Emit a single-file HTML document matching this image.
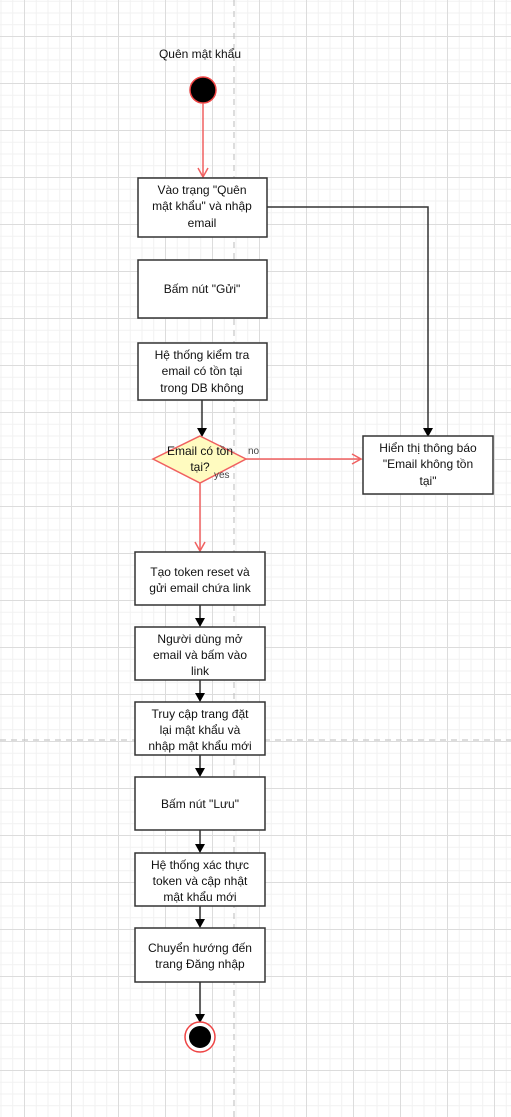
<!DOCTYPE html>
<html><head><meta charset="utf-8"><style>
html,body{margin:0;padding:0;}
body{width:511px;height:1117px;overflow:hidden;background:#fff;
background-image:
linear-gradient(to right,#dcdcdc 1px,transparent 1px),
linear-gradient(to bottom,#dcdcdc 1px,transparent 1px),
linear-gradient(to right,#f1f1f1 1px,transparent 1px),
linear-gradient(to bottom,#f1f1f1 1px,transparent 1px);
background-size:47px 47px,47px 47px,11.75px 11.75px,11.75px 11.75px;
background-position:24px 0,0 36px,24px 0,0 36px;}
text{font-family:"Liberation Sans","DejaVu Sans",sans-serif;font-size:12px;fill:#111;}
</style></head><body>
<svg width="511" height="1117" style="position:absolute;left:0;top:0">
<line x1="234" y1="0" x2="234" y2="1117" stroke="#bbb" stroke-dasharray="6,5"/>
<line x1="0" y1="740" x2="511" y2="740" stroke="#bbb" stroke-dasharray="6,5"/>
<text x="200" y="58" text-anchor="middle">Quên mật khẩu</text>
<circle cx="203" cy="90" r="13" fill="#000" stroke="#e44" stroke-width="1.5"/>
<g stroke="#f06060" stroke-width="1.5" fill="none">
<line x1="203" y1="103" x2="203" y2="177"/><polyline points="198,168 203,177 208,168"/>
<line x1="246" y1="459" x2="361" y2="459"/><polyline points="352,454 361,459 352,464"/>
<line x1="200" y1="483" x2="200" y2="551"/><polyline points="195,542 200,551 205,542"/>
</g>
<g stroke="#333" stroke-width="1.5" fill="none">
<polyline points="267,207 428,207 428,434"/>
<line x1="202" y1="400" x2="202" y2="434"/>
<line x1="200" y1="605" x2="200" y2="625"/><line x1="200" y1="680" x2="200" y2="700"/>
<line x1="200" y1="755" x2="200" y2="775"/><line x1="200" y1="830" x2="200" y2="851"/>
<line x1="200" y1="906" x2="200" y2="926"/><line x1="200" y1="982" x2="200" y2="1021"/>
</g>
<g fill="#000">
<polygon points="423,428 433,428 428,437"/>
<polygon points="197,428 207,428 202,437"/>
<polygon points="195,618 205,618 200,627"/><polygon points="195,693 205,693 200,702"/>
<polygon points="195,768 205,768 200,777"/><polygon points="195,844 205,844 200,853"/>
<polygon points="195,919 205,919 200,928"/><polygon points="195,1014 205,1014 200,1023"/>
</g>
<g fill="#fff" stroke="#333" stroke-width="1.5">
<rect x="138" y="178" width="129" height="59"/>
<rect x="138" y="260" width="129" height="58"/>
<rect x="138" y="343" width="129" height="57"/>
<rect x="363" y="436" width="130" height="58"/>
<rect x="135" y="552" width="130" height="53"/>
<rect x="135" y="627" width="130" height="53"/>
<rect x="135" y="702" width="130" height="53"/>
<rect x="135" y="777" width="130" height="53"/>
<rect x="135" y="853" width="130" height="53"/>
<rect x="135" y="928" width="130" height="54"/>
</g>
<polygon points="200,436 246,459 200,483 153,459" fill="#fffbc0" stroke="#f06060" stroke-width="1.5"/>
<circle cx="200" cy="1037" r="15" fill="#fff" stroke="#e44" stroke-width="1.5"/>
<circle cx="200" cy="1037" r="11" fill="#000"/>
<g text-anchor="middle">
<text x="202" y="194">Vào trạng "Quên</text><text x="202" y="210">mật khẩu" và nhập</text><text x="202" y="227">email</text>
<text x="202" y="293">Bấm nút "Gửi"</text>
<text x="202" y="359">Hệ thống kiểm tra</text><text x="202" y="375">email có tồn tại</text><text x="202" y="392">trong DB không</text>
<text x="200" y="455">Email có tồn</text><text x="200" y="471">tại?</text>
<text x="428" y="452">Hiển thị thông báo</text><text x="428" y="468">"Email không tồn</text><text x="428" y="485">tại"</text>
<text x="200" y="576">Tạo token reset và</text><text x="200" y="592">gửi email chứa link</text>
<text x="200" y="643">Người dùng mở</text><text x="200" y="659">email và bấm vào</text><text x="200" y="675">link</text>
<text x="200" y="718">Truy cập trang đặt</text><text x="200" y="734">lại mật khẩu và</text><text x="200" y="750">nhập mật khẩu mới</text>
<text x="200" y="808">Bấm nút "Lưu"</text>
<text x="200" y="869">Hệ thống xác thực</text><text x="200" y="885">token và cập nhật</text><text x="200" y="901">mật khẩu mới</text>
<text x="200" y="952">Chuyển hướng đến</text><text x="200" y="968">trang Đăng nhập</text>
</g>
<text x="248" y="454" style="font-size:10px;fill:#444">no</text>
<text x="214" y="478" style="font-size:10px;fill:#444">yes</text>
</svg>
</body></html>
